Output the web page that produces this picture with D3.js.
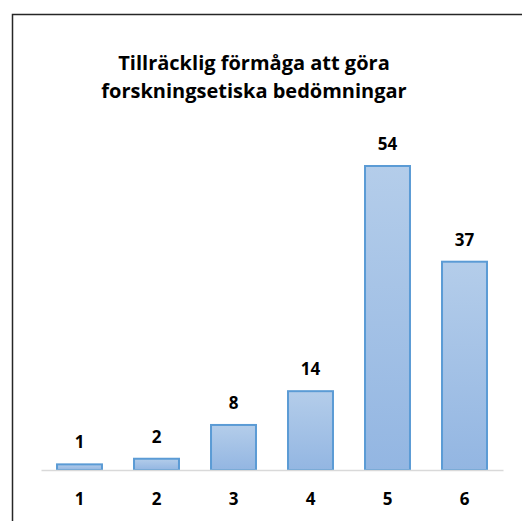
<!DOCTYPE html>
<html>
<head>
<meta charset="utf-8">
<script src="https://cdn.jsdelivr.net/npm/d3@7"></script>
<style>
  body { margin: 0; background: #fff; }
  text { font-family: "Open Sans", Lato, sans-serif; font-weight: bold; fill: #000; }
</style>
</head>
<body>
<div id="chart"></div>
<script>
  var categories = ["1", "2", "3", "4", "5", "6"];
  var values = [1, 2, 8, 14, 54, 37];
  var titleLines = ["Tillräcklig förmåga att göra", "forskningsetiska bedömningar"];

  var W = 522, H = 521;
  var margin = { top: 0, left: 41, right: 19, bottom: 51 },
    baseline = H - margin.bottom;

  var svg = d3.select("#chart")
        .append("svg")
        .attr("width", W)
        .attr("height", H);

  // gradient fill for bars
  var grad = svg.append("defs").append("linearGradient").attr("id", "barGrad")
              .attr("x1", "0%").attr("x2", "0%").attr("y1", "0%").attr("y2", "100%");
  grad.append("stop").attr("offset", "0%").style("stop-color", "#b4cdea");
  grad.append("stop").attr("offset", "100%").style("stop-color", "#93b6e2");

  // chart frame (left + top edges visible)
  svg.append("path")
    .attr("d", "M12.5," + H + "V14.5H" + W)
    .attr("fill", "none")
    .attr("stroke", "#262626")
    .attr("stroke-width", 1.5);

  // title
  svg.selectAll(".title")
    .data(titleLines)
    .enter().append("text")
    .attr("class", "title")
    .attr("x", 254)
    .attr("y", function(d, i) { return 70 + i * 28; })
    .attr("text-anchor", "middle")
    .style("font-size", "20px")
    .text(function(d) { return d; });

  var xScale = d3.scaleBand().domain(categories)
    .range([margin.left, W - margin.right])
    .paddingInner(0.416).paddingOuter(0.208);
  var yScale = d3.scaleLinear().domain([0, 54]).range([baseline, 166]);

  svg.selectAll(".bar")
    .data(values)
    .enter().append("rect")
    .attr("class", "bar")
    .attr("x", function(d, i) { return xScale(categories[i]); })
    .attr("y", function(d) { return yScale(d); })
    .attr("width", xScale.bandwidth())
    .attr("height", function(d) { return baseline - yScale(d); })
    .attr("fill", "url(#barGrad)")
    .attr("stroke", "#5b9bd5")
    .attr("stroke-width", 2);

  // x axis
  var xAxis = d3.axisBottom(xScale).tickSize(0).tickPadding(23);
  var axisG = svg.append("g")
    .attr("transform", "translate(0," + baseline + ")")
    .call(xAxis);
  axisG.select(".domain").attr("stroke", "#d9d9d9").attr("stroke-width", 1.5);
  axisG.selectAll("text")
    .style("font-size", "17px")
    .style("font-family", "'Open Sans', Lato, sans-serif");

  // value labels
  svg.selectAll(".label")
    .data(values)
    .enter().append("text")
    .attr("class", "label")
    .attr("x", function(d, i) { return xScale(categories[i]) + xScale.bandwidth() / 2; })
    .attr("y", function(d) { return yScale(d) - 16; })
    .attr("text-anchor", "middle")
    .style("font-size", "17px")
    .text(function(d) { return d; });
</script>
</body>
</html>
